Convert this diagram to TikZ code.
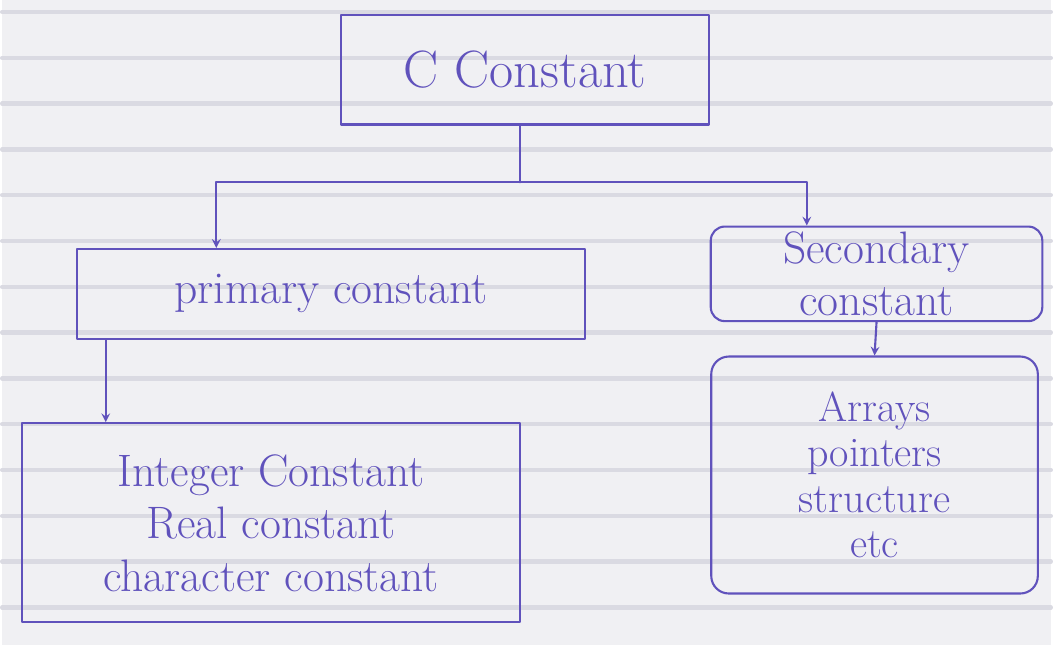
\documentclass[tikz,border=0pt]{standalone}
\usetikzlibrary{positioning}
\definecolor{ink}{RGB}{96,82,188}
\definecolor{paper}{RGB}{240,240,243}
\definecolor{ruling}{RGB}{218,218,226}
\begin{document}
\begin{tikzpicture}[x=0.02cm,y=-0.02cm,line join=round,line cap=round,>=stealth,line width=1.2pt,
    box/.style={draw=ink,text=ink,align=center,inner sep=0pt,font=\fontsize{26}{30}\selectfont},
    link/.style={draw=ink,->}]
    % paper and its ruling
    \fill[paper] (0,0) rectangle (1053,648);
    \foreach \y in {12,58,104,150,196,242,288,334,380,426,472,518,564,610}
        \draw[ruling,line width=2.5pt] (0,\y) -- (1053,\y);
    \useasboundingbox (0,0) rectangle (1053,648);
    % boxes
    \node[box,minimum width=7.4cm,minimum height=2.2cm,font=\fontsize{30}{34}\selectfont] (cc) at (525,70) {C Constant};
    \node[box,minimum width=10.2cm,minimum height=1.8cm] (pc) at (330,295) {primary constant};
    \node[box,minimum width=6.66cm,minimum height=1.9cm,rounded corners=8pt] (sc) at (878,275) {Secondary\\constant};
    \node[box,minimum width=10cm,minimum height=4cm] (ic) at (270,525) {Integer Constant\\Real constant\\character constant};
    \node[box,minimum width=6.56cm,minimum height=4.76cm,rounded corners=10pt,font=\fontsize{24}{26}\selectfont] (ac) at (876,477) {Arrays\\pointers\\structure\\etc};
    % connectors
    \coordinate (split) at (520,183);
    \draw[ink] (cc.south -| split) -- (split);
    \draw[link] (split) -| ([xshift=-2.3cm]pc.north);
    \draw[link] (split) -| ([xshift=-1.4cm]sc.north);
    \draw[link] ([xshift=0.6cm]pc.south west) -- ([xshift=0.6cm]pc.south west |- ic.north);
    \draw[link] (sc.south) -- (ac.north);
\end{tikzpicture}
\end{document}
